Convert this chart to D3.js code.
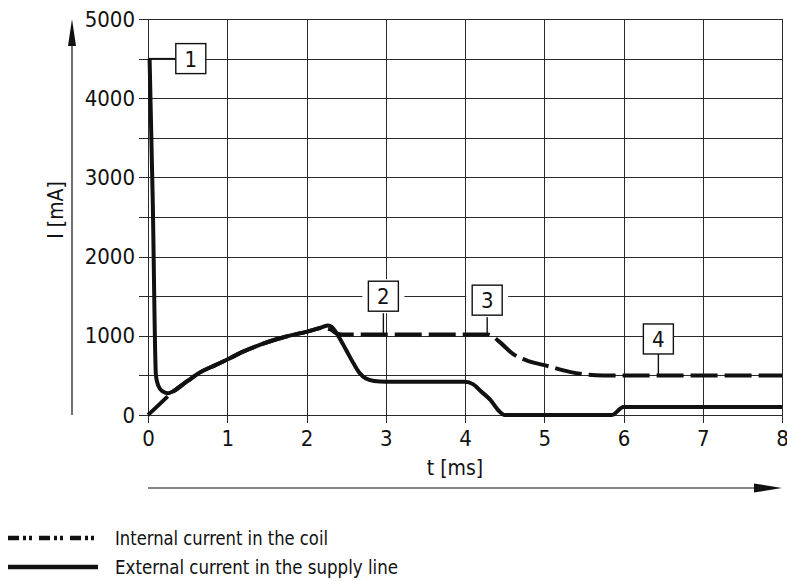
<!DOCTYPE html>
<html>
<head>
<meta charset="utf-8">
<script src="https://cdn.jsdelivr.net/npm/d3@7/dist/d3.min.js"></script>
<style>
  html, body { margin: 0; padding: 0; background: #fff; }
  svg { display: block; }
  text { font-family: "DejaVu Sans Condensed", "DejaVu Sans", sans-serif; fill: #111; }
</style>
</head>
<body>
<svg id="chart" width="787" height="581"></svg>
<script>
// Time axis (ms) and current axis (mA)
const xTicks = [0, 1, 2, 3, 4, 5, 6, 7, 8];
const yTicks = [0, 1000, 2000, 3000, 4000, 5000];
const yGrid = [0, 500, 1000, 1500, 2000, 2500, 3000, 3500, 4000, 4500, 5000];

// Internal current in the coil (dashed)
const internalT = [0, 0.15, 0.32, 0.5, 0.66, 0.85, 1.0, 1.2, 1.41, 1.6, 1.8, 2.0, 2.2, 2.3, 2.38, 2.45,
                   3.0, 4.29, 4.36, 4.44, 4.6, 4.8, 5.0, 5.32, 5.5, 5.74, 8];
const internalI = [0, 140, 300, 430, 540, 630, 700, 800, 885, 950, 1005, 1050, 1100, 1080, 1030, 1015,
                   1015, 1015, 985, 920, 775, 680, 630, 545, 515, 500, 500];

// External current in the supply line (solid)
const externalT = [0.02, 0.06, 0.1, 0.13, 0.18, 0.25, 0.32, 0.5, 0.66, 0.85, 1.0, 1.2, 1.41, 1.6, 1.8, 2.0,
                   2.2, 2.27, 2.32, 2.4, 2.5, 2.6, 2.67, 2.75, 2.85, 3.0, 4.0, 4.1, 4.2, 4.32, 4.42, 4.5,
                   5.85, 6.0, 8];
const externalI = [4500, 2700, 500, 370, 300, 275, 300, 430, 540, 630, 700, 800, 885, 950, 1005, 1050,
                   1110, 1130, 1110, 1000, 820, 640, 530, 460, 430, 420, 420, 390, 300, 190, 60, 0,
                   0, 100, 100];

// Numbered callouts: box position and the point each one refers to
const calloutLabels = ["1", "2", "3", "4"];
const calloutBoxT = [0.54, 2.97, 4.28, 6.44];
const calloutBoxI = [4500, 1500, 1450, 960];
const calloutTargetT = [0, 2.97, 4.29, 6.45];
const calloutTargetI = [4500, 1015, 1015, 500];

const legendLabels = ["Internal current in the coil", "External current in the supply line"];

const svg = d3.select("#chart");
const x = d3.scaleLinear().domain([0, 8]).range([148, 782]);
const y = d3.scaleLinear().domain([0, 5000]).range([415, 19]);

// Grid
const grid = svg.append("g").attr("stroke", "#2a2a2a").attr("stroke-width", 1).attr("shape-rendering", "crispEdges");
grid.selectAll("line.h").data(yGrid).join("line")
  .attr("x1", x(0) - 9).attr("x2", x(8))
  .attr("y1", d => Math.round(y(d)) + 0.5).attr("y2", d => Math.round(y(d)) + 0.5);
grid.selectAll("line.v").data(xTicks).join("line")
  .attr("x1", d => Math.round(x(d)) + 0.5).attr("x2", d => Math.round(x(d)) + 0.5)
  .attr("y1", y(5000)).attr("y2", y(0) + 8);

// Axes (labels only, the grid carries the tick marks)
const yAxis = svg.append("g").attr("transform", `translate(${x(0)},0)`)
  .call(d3.axisLeft(y).tickValues(yTicks).tickSize(9).tickPadding(4).tickFormat(d3.format("d")));
yAxis.select(".domain").remove();
yAxis.selectAll(".tick line").remove();
yAxis.selectAll("text").attr("font-size", 22).attr("fill", "#111")
  .attr("font-family", "'DejaVu Sans Condensed', 'DejaVu Sans', sans-serif");

const xAxis = svg.append("g").attr("transform", `translate(0,${y(0)})`)
  .call(d3.axisBottom(x).tickValues(xTicks).tickSize(8).tickPadding(7).tickFormat(d3.format("d")));
xAxis.select(".domain").remove();
xAxis.selectAll(".tick line").remove();
xAxis.selectAll("text").attr("font-size", 22).attr("fill", "#111")
  .attr("font-family", "'DejaVu Sans Condensed', 'DejaVu Sans', sans-serif");

// Axis titles
svg.append("text").attr("transform", "translate(63,210) rotate(-90)")
  .attr("text-anchor", "middle").attr("font-size", 21).text("I [mA]");
svg.append("text").attr("x", 455).attr("y", 475)
  .attr("text-anchor", "middle").attr("font-size", 21).text("t [ms]");

// Direction arrows
svg.append("line").attr("x1", 72).attr("x2", 72).attr("y1", y(0)).attr("y2", 42)
  .attr("stroke", "#111").attr("stroke-width", 1.2);
svg.append("path").attr("d", "M68,46 L72,19 L76,46 Z").attr("fill", "#111");
svg.append("line").attr("x1", x(0)).attr("x2", 758).attr("y1", 488).attr("y2", 488)
  .attr("stroke", "#111").attr("stroke-width", 1.2);
svg.append("path").attr("d", "M754,483.5 L782,488 L754,492.5 Z").attr("fill", "#111");

// Curves
const line = d3.line().x(d => x(d[0])).y(d => y(d[1])).curve(d3.curveMonotoneX);
const internal = internalT.map((t, i) => [t, internalI[i]]);
const external = externalT.map((t, i) => [t, externalI[i]]);

// Callout boxes and their leaders
const callouts = calloutLabels.map((label, i) => ({
  label, bx: x(calloutBoxT[i]), by: y(calloutBoxI[i]),
  tx: x(calloutTargetT[i]), ty: y(calloutTargetI[i])
}));
const cg = svg.append("g");
cg.selectAll("path.leader").data(callouts).join("path")
  .attr("fill", "none").attr("stroke", "#111").attr("stroke-width", 1.4)
  .attr("d", (d, i) => i === 0
    ? `M${d.bx - 15},${d.by} H${d.tx}`
    : `M${d.bx},${d.by + 15} V${d.ty}`);

svg.append("path").datum(internal).attr("d", line)
  .attr("fill", "none").attr("stroke", "#111").attr("stroke-width", 4)
  .attr("stroke-dasharray", "27,7");
svg.append("path").datum(external).attr("d", line)
  .attr("fill", "none").attr("stroke", "#111").attr("stroke-width", 4)
  .attr("stroke-linejoin", "round");

cg.raise();
cg.selectAll("rect.pad").data(callouts).join("rect")
  .attr("x", (d, i) => d.bx - 15 - (i === 1 || i === 2 ? 6 : 0))
  .attr("y", (d, i) => d.by - 15 - (i === 1 || i === 2 ? 2 : 0))
  .attr("width", (d, i) => 30 + (i === 1 || i === 2 ? 12 : 0))
  .attr("height", (d, i) => 30 + (i === 1 || i === 2 ? 4 : 0))
  .attr("fill", "#fff");
cg.selectAll("rect.box").data(callouts).join("rect")
  .attr("x", d => d.bx - 15).attr("y", d => d.by - 15)
  .attr("width", 30).attr("height", 30)
  .attr("fill", "#fff").attr("stroke", "#111").attr("stroke-width", 1.4);
cg.selectAll("text").data(callouts).join("text")
  .attr("x", d => d.bx).attr("y", d => d.by + 8)
  .attr("text-anchor", "middle").attr("font-size", 22).text(d => d.label);

// Legend
const lg = svg.append("g");
lg.append("line").attr("x1", 8).attr("x2", 98).attr("y1", 538).attr("y2", 538)
  .attr("stroke", "#111").attr("stroke-width", 4.5).attr("stroke-dasharray", "11,4,3,3,3,7");
lg.append("line").attr("x1", 8).attr("x2", 98).attr("y1", 567).attr("y2", 567)
  .attr("stroke", "#111").attr("stroke-width", 4.5);
lg.selectAll("text").data(legendLabels).join("text")
  .attr("x", 115).attr("y", (d, i) => 545 + i * 29)
  .attr("font-size", 20)
  .attr("textLength", (d, i) => i === 0 ? 213 : 283)
  .attr("lengthAdjust", "spacingAndGlyphs")
  .text(d => d);
</script>
</body>
</html>
